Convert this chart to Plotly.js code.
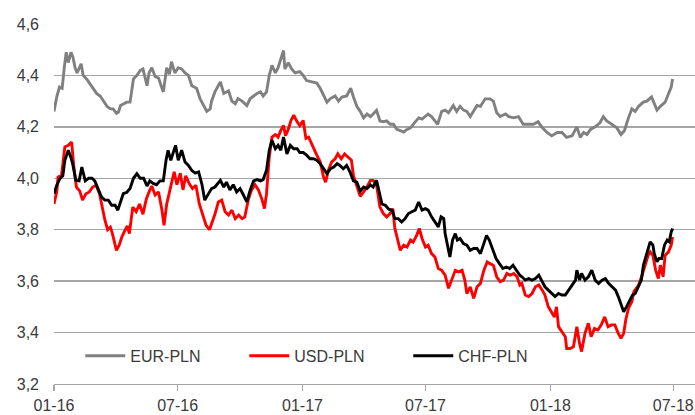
<!DOCTYPE html>
<html>
<head>
<meta charset="utf-8">
<script src="https://cdn.plot.ly/plotly-3.0.1.min.js"></script>
<style>html,body{margin:0;padding:0;background:#fff}#chart{width:695px;height:415px}</style>
</head>
<body>
<div id="chart"></div>
<script>
// Day offsets from 2016-01-01 and rates
const eurDays = [
0,4,8,12,15,18,21,25,28,31,
34,40,43,48,53,58,63,68,73,78,
83,87,92,95,98,102,107,112,117,122,
127,131,137,140,144,149,154,159,161,166,
170,173,178,183,188,193,198,203,210,215,
220,225,230,232,237,245,250,257,262,267,
271,277,284,289,294,299,304,308,313,317,
321,326,330,334,338,340,345,350,355,362,
367,372,380,387,392,397,402,407,414,419,
424,431,437,441,446,451,456,461,466,470,
475,480,485,490,495,500,505,510,515,520,
525,529,537,542,547,551,556,561,565,571,
576,581,588,593,598,603,608,613,618,623,
628,635,642,647,652,657,665,670,677,684,
691,699,706,713,718,726,733,741,748,755,
763,770,775,780,785,790,797,804,809,814,
822,829,835,840,846,851,856,861,868,873,
880,884,888,893,900,905,909,911];
const eurVals = [
4.26,4.316,4.355,4.35,4.427,4.49,4.45,4.49,4.47,4.43,
4.41,4.445,4.40,4.386,4.367,4.348,4.329,4.32,4.30,4.28,
4.27,4.27,4.253,4.258,4.283,4.29,4.296,4.296,4.386,4.40,
4.419,4.425,4.36,4.41,4.43,4.395,4.39,4.35,4.336,4.43,
4.405,4.453,4.41,4.43,4.425,4.41,4.40,4.36,4.35,4.31,
4.283,4.26,4.27,4.30,4.336,4.375,4.33,4.34,4.30,4.29,
4.31,4.30,4.283,4.31,4.32,4.33,4.336,4.32,4.336,4.40,
4.439,4.41,4.43,4.465,4.497,4.425,4.45,4.425,4.41,4.415,
4.40,4.38,4.375,4.37,4.35,4.32,4.296,4.31,4.32,4.30,
4.316,4.32,4.35,4.316,4.28,4.26,4.235,4.25,4.24,4.25,
4.264,4.223,4.22,4.223,4.21,4.21,4.19,4.185,4.18,4.19,
4.196,4.21,4.235,4.23,4.24,4.25,4.24,4.223,4.21,4.26,
4.265,4.255,4.283,4.26,4.28,4.265,4.26,4.24,4.26,4.283,
4.28,4.309,4.309,4.30,4.255,4.24,4.25,4.24,4.235,4.24,
4.21,4.21,4.21,4.22,4.20,4.178,4.165,4.178,4.178,4.159,
4.165,4.20,4.159,4.178,4.17,4.19,4.20,4.216,4.24,4.223,
4.21,4.196,4.17,4.185,4.235,4.27,4.26,4.28,4.296,4.30,
4.316,4.29,4.265,4.28,4.296,4.329,4.355,4.386];

const usdDays = [
0,4,6,11,16,21,26,29,33,38,
42,47,52,57,62,67,72,75,79,83,
86,90,92,96,100,105,108,111,116,121,
126,131,136,140,144,149,154,159,162,166,
169,173,177,181,186,190,194,199,204,209,
214,219,224,229,232,237,242,247,252,257,
262,267,272,277,281,286,291,296,301,306,
310,313,317,321,326,330,334,338,341,345,
349,353,358,362,367,371,375,379,382,387,
392,397,400,404,409,414,418,423,428,433,
438,441,446,451,456,461,466,470,475,480,
485,490,495,499,502,506,510,515,520,525,
529,534,538,542,547,551,556,561,566,571,
576,581,586,591,596,601,605,608,613,618,
623,628,633,638,642,647,652,657,662,667,
672,677,682,686,689,694,699,704,709,714,
719,723,728,733,737,740,743,748,753,755,
760,765,770,774,777,782,787,791,796,801,
806,811,816,821,826,831,835,839,842,846,
851,854,857,861,866,871,875,878,882,886,
890,893,897,900,905,909,911];
const usdVals = [
3.90,3.947,4.005,4.01,4.122,4.128,4.141,4.05,3.966,3.95,
3.915,3.94,3.947,3.966,3.973,3.94,3.876,3.837,3.80,3.81,
3.785,3.746,3.72,3.74,3.772,3.80,3.815,3.785,3.888,3.87,
3.90,3.86,3.92,3.947,3.97,3.935,3.947,3.876,3.817,3.90,
3.94,3.98,4.025,3.975,4.02,3.955,4.01,3.98,3.96,3.973,
3.90,3.857,3.817,3.80,3.82,3.86,3.908,3.915,3.87,3.857,
3.876,3.843,3.857,3.843,3.85,3.915,3.955,3.975,3.955,3.92,
3.882,3.94,4.083,4.16,4.17,4.16,4.186,4.205,4.166,4.19,
4.225,4.245,4.22,4.205,4.225,4.155,4.16,4.135,4.115,4.09,
4.064,4.005,3.985,4.031,4.064,4.076,4.095,4.076,4.095,4.083,
4.07,4.01,3.966,3.93,3.947,3.966,3.992,3.992,3.974,3.888,
3.863,3.85,3.863,3.882,3.805,3.76,3.72,3.74,3.733,3.76,
3.752,3.778,3.805,3.766,3.733,3.74,3.707,3.694,3.649,3.642,
3.623,3.572,3.604,3.642,3.636,3.642,3.604,3.552,3.578,3.533,
3.578,3.591,3.642,3.675,3.668,3.662,3.617,3.598,3.604,3.63,
3.623,3.63,3.617,3.585,3.591,3.546,3.54,3.552,3.578,3.585,
3.565,3.546,3.50,3.481,3.461,3.50,3.423,3.403,3.384,3.338,
3.338,3.345,3.423,3.358,3.326,3.397,3.436,3.384,3.416,3.41,
3.43,3.461,3.423,3.43,3.43,3.397,3.378,3.397,3.449,3.494,
3.52,3.559,3.572,3.585,3.623,3.662,3.70,3.714,3.70,3.643,
3.61,3.662,3.617,3.70,3.714,3.74,3.772];

const chfDays = [
0,4,9,13,16,21,25,28,32,37,
41,46,51,56,60,65,70,75,80,85,
90,94,97,102,107,112,117,122,127,132,
137,141,146,151,156,161,165,168,172,176,
179,183,188,193,198,203,208,213,218,222,
227,232,237,245,250,254,259,264,269,274,
279,284,289,294,299,304,308,313,317,321,
326,330,334,338,343,348,353,358,362,367,
372,377,382,387,392,397,402,407,412,417,
421,426,431,436,441,446,451,456,461,466,
470,475,479,483,488,493,498,502,507,512,
517,522,527,532,537,542,547,551,556,561,
566,570,574,576,580,583,587,591,594,598,
603,608,613,618,623,628,633,637,641,646,
651,656,661,666,671,676,681,686,689,694,
699,704,709,714,719,723,728,733,738,743,
748,753,758,763,768,770,774,777,782,787,
792,797,802,807,812,817,822,827,831,835,
839,843,849,852,856,861,865,868,872,875,
878,882,884,888,891,895,899,903,906,909,
911];
const chfVals = [
3.94,3.973,4.0,4.01,4.07,4.109,4.08,4.05,3.992,3.99,
4.044,3.99,4.0,4.0,3.99,3.96,3.927,3.915,3.915,3.895,
3.895,3.876,3.90,3.94,3.945,3.96,4.0,4.018,4.0,4.0,
3.97,3.99,3.98,3.975,3.99,3.99,4.07,4.109,4.07,4.109,
4.128,4.07,4.109,4.063,4.05,4.03,4.02,4.025,3.975,3.915,
3.94,3.96,3.966,3.992,3.966,3.985,3.955,3.975,3.947,3.96,
3.935,3.908,3.955,3.99,3.995,3.99,3.995,4.031,4.109,4.148,
4.115,4.128,4.109,4.16,4.095,4.128,4.115,4.115,4.10,4.10,
4.09,4.076,4.076,4.07,4.057,4.037,4.018,4.037,4.044,4.057,
4.05,4.037,4.05,4.024,3.99,3.985,3.95,3.966,3.96,3.974,
3.966,3.992,3.95,3.90,3.895,3.88,3.876,3.843,3.843,3.83,
3.843,3.863,3.87,3.876,3.908,3.876,3.882,3.876,3.85,3.83,
3.811,3.85,3.843,3.785,3.733,3.694,3.76,3.785,3.76,3.766,
3.746,3.74,3.72,3.727,3.727,3.707,3.746,3.778,3.76,3.72,
3.688,3.668,3.649,3.655,3.649,3.662,3.642,3.623,3.617,3.604,
3.61,3.604,3.61,3.623,3.598,3.578,3.565,3.552,3.54,3.552,
3.546,3.546,3.565,3.585,3.604,3.643,3.604,3.63,3.604,3.617,
3.643,3.604,3.591,3.604,3.61,3.591,3.578,3.565,3.54,3.507,
3.481,3.50,3.533,3.546,3.552,3.578,3.604,3.662,3.70,3.733,
3.753,3.74,3.707,3.675,3.688,3.688,3.74,3.76,3.753,3.791,
3.805];

const seriesNames = ['EUR-PLN','USD-PLN','CHF-PLN'];
const seriesColors = ['#808080','#ff0000','#000000'];

const startMs = Date.UTC(2016,0,1);
const toDate = d => new Date(startMs + d*86400000).toISOString().slice(0,10);

const sets = [[eurDays,eurVals],[usdDays,usdVals],[chfDays,chfVals]];
const traces = sets.map((s,i)=>({
  type:'scatter', mode:'lines', name:seriesNames[i],
  x:s[0].map(toDate), y:s[1],
  line:{color:seriesColors[i], width:2.9}
}));

const layout = {
  width:695, height:415,
  margin:{l:54, r:0, t:24, b:31},
  paper_bgcolor:'#ffffff', plot_bgcolor:'#ffffff',
  separators:',.',
  font:{family:'"Liberation Sans", Arial, sans-serif', size:16, color:'#3a3a3a'},
  showlegend:true,
  legend:{orientation:'h', x:0.041, y:0.078, xanchor:'left', yanchor:'middle',
    bgcolor:'rgba(0,0,0,0)', font:{size:16, color:'#3a3a3a'}, itemwidth:40,
    entrywidth:109, entrywidthmode:'pixels', traceorder:'normal'},
  xaxis:{type:'date', range:[toDate(0), toDate(944)], tick0:'2016-01-01', dtick:'M6',
    tickformat:'%m-%y', ticks:'outside', ticklen:6, tickcolor:'#a6a6a6', tickwidth:1.3,
    showgrid:false, showline:true, linecolor:'#a6a6a6', linewidth:1.3, zeroline:false, fixedrange:true},
  yaxis:{range:[3.2,4.6], tick0:3.2, dtick:0.2, tickformat:'.1f', showgrid:true,
    gridcolor:'#a6a6a6', gridwidth:1.3, ticks:'', zeroline:false, showline:false,
    ticklabelstandoff:14, fixedrange:true}
};

Plotly.newPlot('chart', traces, layout, {displayModeBar:false, staticPlot:true});
</script>
</body>
</html>
